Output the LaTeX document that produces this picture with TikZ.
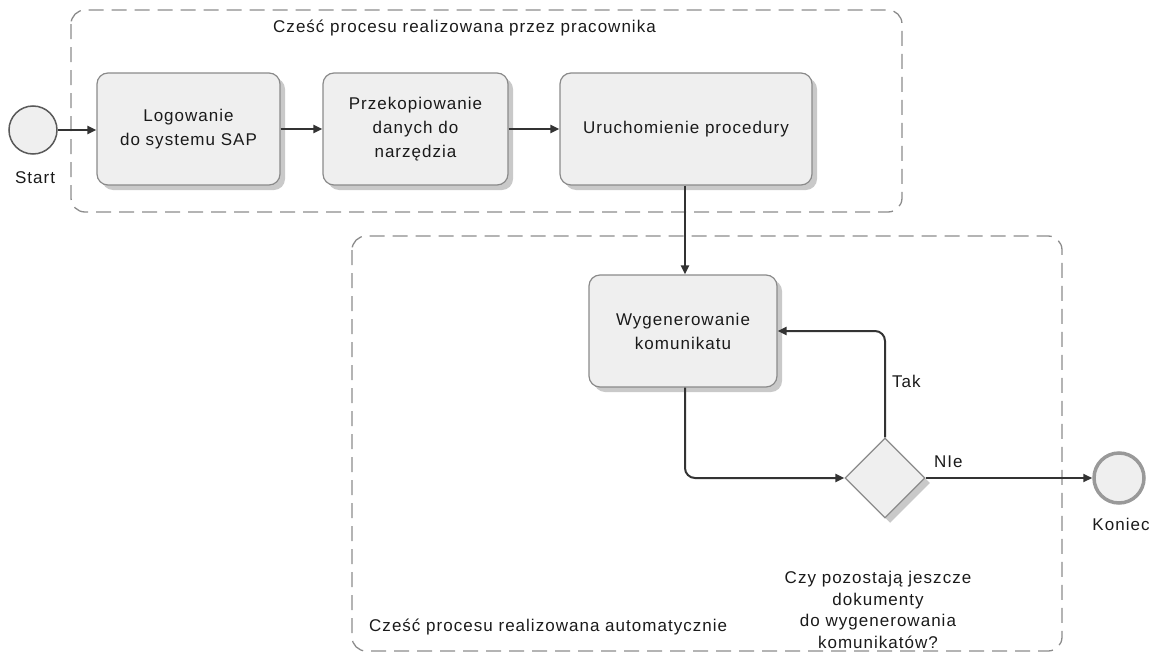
\documentclass[tikz,border=0pt]{standalone}
\usepackage{fontspec}
\setmainfont{Liberation Sans}[LetterSpace=6]
\usetikzlibrary{shapes.geometric,arrows.meta,shadows}
\definecolor{linec}{HTML}{333333}
\definecolor{boxfill}{HTML}{EFEFEF}
\definecolor{boxdraw}{HTML}{8A8A8A}
\definecolor{grpc}{HTML}{8C8C8C}
\definecolor{txtc}{HTML}{1A1A1A}
\tikzset{
  basefont/.style={font=\fontsize{17}{24}\selectfont, text=txtc},
  taskbox/.style={basefont, draw=boxdraw, line width=1.2pt, fill=boxfill, rounded corners=11pt,
    align=center, inner sep=2pt,
    drop shadow={shadow xshift=5pt, shadow yshift=-5pt, fill=black!30, opacity=0.7}},
  gatebox/.style={diamond, draw=boxdraw, line width=1.2pt, fill=boxfill, minimum width=80pt, minimum height=80pt, inner sep=0pt,
    drop shadow={shadow xshift=5pt, shadow yshift=-5pt, fill=black!30, opacity=0.7}},
  startev/.style={circle, draw=black!65, line width=1.5pt, fill=boxfill, minimum size=48pt, inner sep=0pt},
  endev/.style={circle, draw=black!40, line width=3.5pt, fill=boxfill, minimum size=50pt, inner sep=0pt},
  flow/.style={draw=linec, line width=2pt, -{Triangle[length=9pt,width=8pt]}, rounded corners=10pt},
  grp/.style={draw=grpc, line width=1.3pt, dash pattern=on 15pt off 8pt, rounded corners=14pt},
  lbl/.style={basefont, inner sep=1pt, align=center},
}
\begin{document}
\begin{tikzpicture}[x=1pt,y=-1pt]
\useasboundingbox (0,0) rectangle (1151,653);
% groups
\draw[grp] (71,10) rectangle (902,212);
\draw[grp] (352,236) rectangle (1062,651);
\node[lbl, anchor=west] (g1) at (272,28) {Cześć procesu realizowana przez pracownika};
\node[lbl, anchor=west] (g2) at (368,627) {Cześć procesu realizowana automatycznie};
% events
\node[startev] (start) at (33,130) {};
\node[lbl] (startl) at (35,178) {Start};
\node[endev] (endc) at (1119,478) {};
\node[lbl] (endl) at (1121,524) {Koniec};
% tasks
\node[taskbox, minimum width=183pt, minimum height=112pt] (t1) at (188.5,129) {Logowanie\\do systemu SAP};
\node[taskbox, minimum width=185pt, minimum height=112pt] (t2) at (415.5,129) {Przekopiowanie\\danych do\\narzędzia};
\node[taskbox, minimum width=252pt, minimum height=112pt] (t3) at (686,129) {Uruchomienie procedury};
\node[taskbox, minimum width=188pt, minimum height=112pt] (t4) at (683,331) {Wygenerowanie\\komunikatu};
% gateway
\node[gatebox] (gw) at (885,478) {};
\node[lbl] (gwl) at (878,610) {Czy pozostają jeszcze\\[-2.5pt]dokumenty\\[-2.5pt]do wygenerowania\\[-2.5pt]komunikatów?};
% flows
\draw[flow] (start.east) -- (t1.west |- start.east);
\draw[flow] (t1.east) -- (t2.west);
\draw[flow] (t2.east) -- (t3.west);
\draw[flow] (t3.south -| 685,0) -- (685,0 |- t4.north);
\draw[flow] (685,0 |- t4.south) |- (gw.west);
\draw[flow] (gw.north) |- (t4.east);
\draw[flow] (gw.east) -- (endc.west);
\node[lbl, anchor=west] (tak) at (891,381) {Tak};
\node[lbl, anchor=west] (nie) at (933,462) {NIe};
\end{tikzpicture}
\end{document}
